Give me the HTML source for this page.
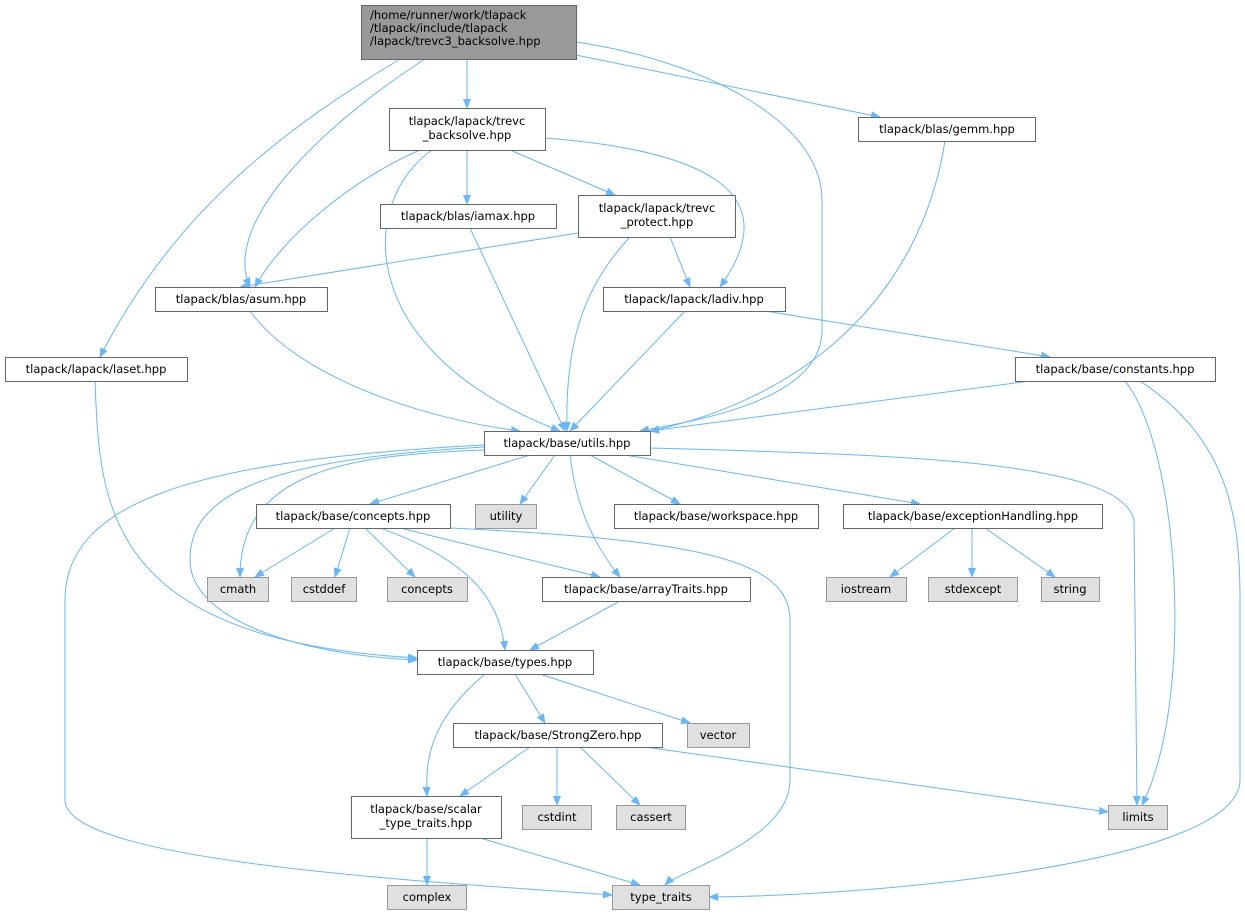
<!DOCTYPE html>
<html><head><meta charset="utf-8"><style>
html,body{margin:0;padding:0;background:#fff;}
svg{display:block;}
text{font-family:"DejaVu Sans","Liberation Sans",sans-serif;font-size:11.5px;fill:#000;}
.e{fill:none;stroke:#63b8ff;stroke-width:1;}
.n{fill:#fff;stroke:#666;stroke-width:1;}
.g{fill:#e0e0e0;stroke:#999;stroke-width:1;}
</style></head><body>
<svg width="1245" height="916" viewBox="0 0 1245 916" xmlns="http://www.w3.org/2000/svg">
<defs><marker id="a" markerWidth="10" markerHeight="8" refX="9" refY="4" orient="auto" markerUnits="userSpaceOnUse"><path d="M0,0 L10,4 L0,8 z" fill="#63b8ff"/></marker></defs>
<g marker-end="url(#a)">
<path class="e" d="M467,59 L467,108"/>
<path class="e" d="M576,55 L880,117"/>
<path class="e" d="M576,42 C700,60 822,120 822,200 L822,330 C822,400 700,420 640,431"/>
<path class="e" d="M425,59 C330,120 220,220 250,287"/>
<path class="e" d="M400,59 C300,120 180,200 100,357"/>
<path class="e" d="M420,150 C350,180 280,240 255,287"/>
<path class="e" d="M467,150 L467,204"/>
<path class="e" d="M510,150 L615,195"/>
<path class="e" d="M545,138 C700,150 790,190 720,287"/>
<path class="e" d="M432,150 C360,200 350,350 560,431"/>
<path class="e" d="M945,141 C920,300 800,400 650,431"/>
<path class="e" d="M470,228 L565,431"/>
<path class="e" d="M578,233 L240,287"/>
<path class="e" d="M670,237 L690,287"/>
<path class="e" d="M630,237 C580,290 565,350 567,431"/>
<path class="e" d="M250,311 C300,380 430,420 520,431"/>
<path class="e" d="M685,311 L570,431"/>
<path class="e" d="M765,311 L1050,357"/>
<path class="e" d="M1030,381 L650,431"/>
<path class="e" d="M1125,381 C1180,450 1195,700 1142,805"/>
<path class="e" d="M1140,381 C1230,440 1240,520 1240,600 L1240,780 C1240,860 900,895 709,897"/>
<path class="e" d="M95,381 C100,500 100,640 417,658"/>
<path class="e" d="M530,455 L370,504"/>
<path class="e" d="M555,455 L520,504"/>
<path class="e" d="M590,455 L680,504"/>
<path class="e" d="M625,455 L920,504"/>
<path class="e" d="M570,455 C575,500 590,540 620,577"/>
<path class="e" d="M650,448 C900,455 1120,460 1134,520 L1137,805"/>
<path class="e" d="M484,450 C350,455 240,470 240,577"/>
<path class="e" d="M484,447 C250,460 190,500 190,560 C190,620 300,655 417,660"/>
<path class="e" d="M484,445 C200,460 65,500 65,600 L65,800 C65,860 400,880 612,895"/>
<path class="e" d="M335,528 L255,577"/>
<path class="e" d="M350,528 L335,577"/>
<path class="e" d="M365,528 L415,577"/>
<path class="e" d="M380,528 C470,560 500,600 505,650"/>
<path class="e" d="M400,528 L600,577"/>
<path class="e" d="M450,528 C700,540 790,560 790,620 L790,780 C790,840 680,870 665,885"/>
<path class="e" d="M955,528 L890,577"/>
<path class="e" d="M972,528 L972,577"/>
<path class="e" d="M985,528 L1055,577"/>
<path class="e" d="M620,601 L530,650"/>
<path class="e" d="M515,674 L545,723"/>
<path class="e" d="M540,674 L690,723"/>
<path class="e" d="M485,674 C430,720 425,760 427,796"/>
<path class="e" d="M530,747 L460,796"/>
<path class="e" d="M557,747 L557,805"/>
<path class="e" d="M580,747 L640,805"/>
<path class="e" d="M645,747 L1108,812"/>
<path class="e" d="M427,838 L427,885"/>
<path class="e" d="M480,838 L640,885"/>
</g>
<rect x="361.5" y="5.5" width="215" height="54" fill="#999" stroke="#666"/>
<text x="370" y="19">/home/runner/work/tlapack</text>
<text x="370" y="32">/tlapack/include/tlapack</text>
<text x="370" y="45">/lapack/trevc3_backsolve.hpp</text>
<rect class="n" x="389.5" y="108.5" width="156" height="42"/>
<text x="467" y="125" text-anchor="middle">tlapack/lapack/trevc</text>
<text x="467" y="139" text-anchor="middle">_backsolve.hpp</text>
<rect class="n" x="858.5" y="117.5" width="177" height="24"/>
<text x="947" y="133" text-anchor="middle">tlapack/blas/gemm.hpp</text>
<rect class="n" x="380.5" y="204.5" width="176" height="24"/>
<text x="468" y="220" text-anchor="middle">tlapack/blas/iamax.hpp</text>
<rect class="n" x="578.5" y="195.5" width="157" height="42"/>
<text x="657" y="212" text-anchor="middle">tlapack/lapack/trevc</text>
<text x="657" y="226" text-anchor="middle">_protect.hpp</text>
<rect class="n" x="155.5" y="287.5" width="172" height="24"/>
<text x="241" y="303" text-anchor="middle">tlapack/blas/asum.hpp</text>
<rect class="n" x="603.5" y="287.5" width="182" height="24"/>
<text x="694" y="303" text-anchor="middle">tlapack/lapack/ladiv.hpp</text>
<rect class="n" x="5.5" y="357.5" width="182" height="24"/>
<text x="96" y="373" text-anchor="middle">tlapack/lapack/laset.hpp</text>
<rect class="n" x="1015.5" y="357.5" width="200" height="24"/>
<text x="1115" y="373" text-anchor="middle">tlapack/base/constants.hpp</text>
<rect class="n" x="484.5" y="431.5" width="166" height="24"/>
<text x="567" y="447" text-anchor="middle">tlapack/base/utils.hpp</text>
<rect class="n" x="256.5" y="504.5" width="194" height="24"/>
<text x="353" y="520" text-anchor="middle">tlapack/base/concepts.hpp</text>
<rect class="g" x="475.5" y="504.5" width="61" height="24"/>
<text x="506" y="520" text-anchor="middle">utility</text>
<rect class="n" x="614.5" y="504.5" width="204" height="24"/>
<text x="716" y="520" text-anchor="middle">tlapack/base/workspace.hpp</text>
<rect class="n" x="843.5" y="504.5" width="259" height="24"/>
<text x="973" y="520" text-anchor="middle">tlapack/base/exceptionHandling.hpp</text>
<rect class="g" x="207.5" y="577.5" width="61" height="24"/>
<text x="238" y="593" text-anchor="middle">cmath</text>
<rect class="g" x="291.5" y="577.5" width="65" height="24"/>
<text x="324" y="593" text-anchor="middle">cstddef</text>
<rect class="g" x="387.5" y="577.5" width="80" height="24"/>
<text x="427" y="593" text-anchor="middle">concepts</text>
<rect class="n" x="542.5" y="577.5" width="208" height="24"/>
<text x="646" y="593" text-anchor="middle">tlapack/base/arrayTraits.hpp</text>
<rect class="g" x="826.5" y="577.5" width="80" height="24"/>
<text x="866" y="593" text-anchor="middle">iostream</text>
<rect class="g" x="928.5" y="577.5" width="89" height="24"/>
<text x="973" y="593" text-anchor="middle">stdexcept</text>
<rect class="g" x="1041.5" y="577.5" width="58" height="24"/>
<text x="1070" y="593" text-anchor="middle">string</text>
<rect class="n" x="417.5" y="650.5" width="176" height="24"/>
<text x="505" y="666" text-anchor="middle">tlapack/base/types.hpp</text>
<rect class="n" x="453.5" y="723.5" width="209" height="24"/>
<text x="558" y="739" text-anchor="middle">tlapack/base/StrongZero.hpp</text>
<rect class="g" x="687.5" y="723.5" width="62" height="24"/>
<text x="718" y="739" text-anchor="middle">vector</text>
<rect class="n" x="351.5" y="796.5" width="150" height="42"/>
<text x="426" y="813" text-anchor="middle">tlapack/base/scalar</text>
<text x="426" y="827" text-anchor="middle">_type_traits.hpp</text>
<rect class="g" x="522.5" y="805.5" width="69" height="24"/>
<text x="557" y="821" text-anchor="middle">cstdint</text>
<rect class="g" x="616.5" y="805.5" width="69" height="24"/>
<text x="651" y="821" text-anchor="middle">cassert</text>
<rect class="g" x="1108.5" y="805.5" width="59" height="24"/>
<text x="1138" y="821" text-anchor="middle">limits</text>
<rect class="g" x="387.5" y="885.5" width="79" height="24"/>
<text x="427" y="901" text-anchor="middle">complex</text>
<rect class="g" x="612.5" y="885.5" width="97" height="24"/>
<text x="661" y="901" text-anchor="middle">type_traits</text>
</svg>
</body></html>
